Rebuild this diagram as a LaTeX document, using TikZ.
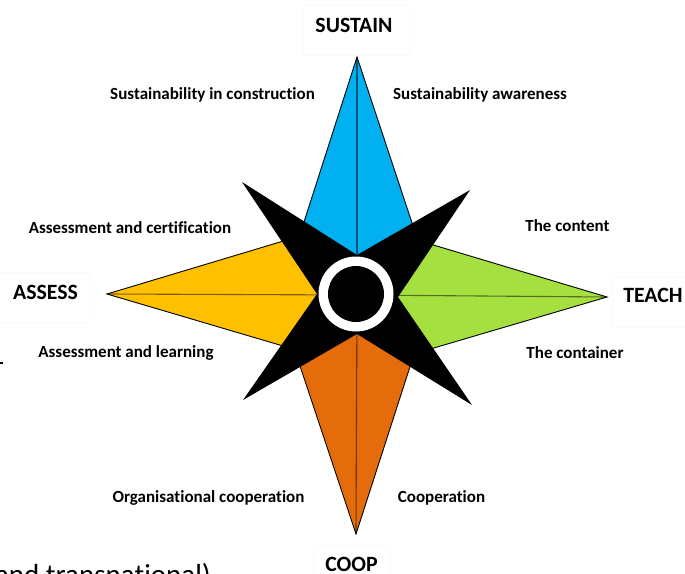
\documentclass[tikz,border=0pt]{standalone}
\usepackage{fontspec}
\setmainfont{Carlito}[Ligatures=NoCommon]
\begin{document}
\begin{tikzpicture}[x=1pt,y=-1pt,
  kite/.style={draw=black,line width=0.9pt,line join=miter},
  midline/.style={draw=black,draw opacity=0.5,line width=1.1pt},
  heading/.style={font=\bfseries\fontsize{21.8}{24}\selectfont,anchor=base,inner sep=0pt},
  label/.style={font=\bfseries\fontsize{17}{20}\selectfont,anchor=base,inner sep=0pt},
  faintbox/.style={draw=black!2,line width=0.4pt}]
\definecolor{sustainblue}{RGB}{0,176,240}
\definecolor{teachgreen}{RGB}{166,224,64}
\definecolor{assessyellow}{RGB}{255,192,0}
\definecolor{cooporange}{RGB}{228,108,10}

\useasboundingbox (0,0) rectangle (685,573);
\clip (0,0) rectangle (685,573);
\fill[white] (0,0) rectangle (685,573);

% centre and points of the rose
\coordinate (c) at (357,295);
\coordinate (tn) at (357,57);
\coordinate (te) at (607,297);
\coordinate (ts) at (356,534);
\coordinate (tw) at (107,294);

% faint frames of the headings
\draw[faintbox] (303,5) rectangle (410,55);
\draw[faintbox] (612,277) rectangle (690,327);
\draw[faintbox] (-5,272) rectangle (90,322);
\draw[faintbox] (313,545) rectangle (390,580);

% the four kites
\draw[kite,fill=sustainblue] (tn) -- (295,250) -- (c) -- (421,250) -- cycle;
\draw[midline] (tn) -- (c);
\draw[kite,fill=teachgreen] (te) -- (410,238) -- (c) -- (410,355) -- cycle;
\draw[midline] (te) -- (c);
\draw[kite,fill=assessyellow] (tw) -- (300,236) -- (c) -- (300,351) -- cycle;
\draw[midline] (tw) -- (c);
\draw[kite,fill=cooporange] (ts) -- (293,345) -- (c) -- (417,345) -- cycle;
\draw[midline] (ts) -- (c);

% black four-pointed star
\fill[black] (242,182) -- (357,255) -- (470,190) -- (398,297) -- (472,405)
  -- (357,334) -- (243,400) -- (317,294) -- cycle;

% ring in the middle
\fill[white] (356,294) circle[radius=37.5];
\fill[black] (356,294) circle[radius=28];

% headings
\node[heading] (sustain) at (354,32) {SUSTAIN};
\node[heading] (teach) at (653,302) {TEACH};
\node[heading] (assess) at (45.5,299) {ASSESS};
\node[heading] (coop) at (351.5,571) {COOP};

% labels
\node[label] (sic) at (212.5,99) {Sustainability in construction};
\node[label] (saw) at (480,99) {Sustainability awareness};
\node[label] (aac) at (130,233) {Assessment and certification};
\node[label] (tcont) at (567.5,231) {The content};
\node[label] (aal) at (126,357) {Assessment and learning};
\node[label] (tcontainer) at (575,358) {The container};
\node[label] (oco) at (208.5,502) {Organisational cooperation};
\node[label] (coo) at (441.5,502) {Cooperation};

% text running on below the rose
\node[font=\fontsize{29}{32}\selectfont,anchor=base east,inner sep=0pt] (trans) at (211,584) {(and transnational)};
\draw[line width=1.4pt] (0,363) -- (3,363);
\end{tikzpicture}
\end{document}
